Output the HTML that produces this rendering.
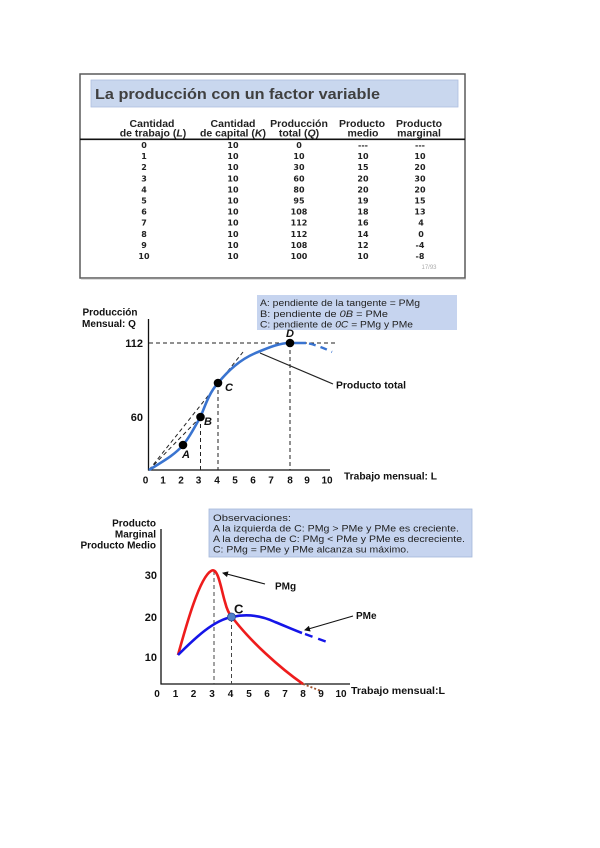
<!DOCTYPE html>
<html><head><meta charset="utf-8"><style>
html,body{margin:0;padding:0;background:#fff;}
svg{display:block;}
text{font-family:"Liberation Sans",Arial,sans-serif;}
.v{font-family:"DejaVu Sans","Liberation Sans",sans-serif;font-weight:bold;font-size:8px;fill:#222;text-anchor:middle;}
.h{font-weight:bold;font-size:10.5px;fill:#222;text-anchor:middle;}
.b{font-weight:bold;font-size:10px;fill:#111;}
.t{font-weight:bold;font-size:10px;fill:#111;text-anchor:middle;}
.y{font-weight:bold;font-size:11px;fill:#111;text-anchor:end;}
.n{font-size:9.6px;fill:#222;}
</style></head><body>
<svg width="600" height="848" viewBox="0 0 600 848" xmlns="http://www.w3.org/2000/svg">
<defs>
<marker id="ah" markerWidth="6" markerHeight="6" refX="5" refY="3" orient="auto" markerUnits="userSpaceOnUse">
<path d="M0,0 L6,3 L0,6 z" fill="#111"/>
</marker>
</defs>

<!-- ===== TABLE FRAME ===== -->
<rect x="80" y="74" width="385" height="204" fill="#fff" stroke="#5a5a5a" stroke-width="1.5"/>
<line x1="81" y1="279" x2="466" y2="279" stroke="#bbb" stroke-width="1"/>
<rect x="91" y="80" width="367" height="27" fill="#c9d7ee" stroke="#aebfe0" stroke-width="0.8"/>
<text x="95" y="99" font-size="15" font-weight="bold" fill="#404040" textLength="285" lengthAdjust="spacingAndGlyphs">La producción con un factor variable</text>

<text class="h" x="152" y="127">Cantidad</text>
<text class="h" x="153" y="136.5">de trabajo (<tspan font-style="italic">L</tspan>)</text>
<text class="h" x="233" y="127">Cantidad</text>
<text class="h" x="233" y="136.5">de capital (<tspan font-style="italic">K</tspan>)</text>
<text class="h" x="299" y="127">Producción</text>
<text class="h" x="299" y="136.5">total (<tspan font-style="italic">Q</tspan>)</text>
<text class="h" x="362" y="127">Producto</text>
<text class="h" x="363" y="136.5">medio</text>
<text class="h" x="419" y="127">Producto</text>
<text class="h" x="419" y="136.5">marginal</text>
<line x1="80" y1="139.3" x2="465" y2="139.3" stroke="#111" stroke-width="1.6"/>

<g>
<text class="v" x="144" y="148">0</text><text class="v" x="233" y="148">10</text><text class="v" x="299" y="148">0</text><text class="v" x="363" y="148">---</text><text class="v" x="420" y="148">---</text>
<text class="v" x="144" y="159.1">1</text><text class="v" x="233" y="159.1">10</text><text class="v" x="299" y="159.1">10</text><text class="v" x="363" y="159.1">10</text><text class="v" x="420" y="159.1">10</text>
<text class="v" x="144" y="170.2">2</text><text class="v" x="233" y="170.2">10</text><text class="v" x="299" y="170.2">30</text><text class="v" x="363" y="170.2">15</text><text class="v" x="420" y="170.2">20</text>
<text class="v" x="144" y="181.3">3</text><text class="v" x="233" y="181.3">10</text><text class="v" x="299" y="181.3">60</text><text class="v" x="363" y="181.3">20</text><text class="v" x="420" y="181.3">30</text>
<text class="v" x="144" y="192.4">4</text><text class="v" x="233" y="192.4">10</text><text class="v" x="299" y="192.4">80</text><text class="v" x="363" y="192.4">20</text><text class="v" x="420" y="192.4">20</text>
<text class="v" x="144" y="203.5">5</text><text class="v" x="233" y="203.5">10</text><text class="v" x="299" y="203.5">95</text><text class="v" x="363" y="203.5">19</text><text class="v" x="420" y="203.5">15</text>
<text class="v" x="144" y="214.6">6</text><text class="v" x="233" y="214.6">10</text><text class="v" x="299" y="214.6">108</text><text class="v" x="363" y="214.6">18</text><text class="v" x="420" y="214.6">13</text>
<text class="v" x="144" y="225.7">7</text><text class="v" x="233" y="225.7">10</text><text class="v" x="299" y="225.7">112</text><text class="v" x="363" y="225.7">16</text><text class="v" x="421" y="225.7">4</text>
<text class="v" x="144" y="236.8">8</text><text class="v" x="233" y="236.8">10</text><text class="v" x="299" y="236.8">112</text><text class="v" x="363" y="236.8">14</text><text class="v" x="421" y="236.8">0</text>
<text class="v" x="144" y="247.9">9</text><text class="v" x="233" y="247.9">10</text><text class="v" x="299" y="247.9">108</text><text class="v" x="363" y="247.9">12</text><text class="v" x="420" y="247.9">-4</text>
<text class="v" x="144" y="259">10</text><text class="v" x="233" y="259">10</text><text class="v" x="299" y="259">100</text><text class="v" x="363" y="259">10</text><text class="v" x="420" y="259">-8</text>
</g>
<text x="429" y="269" font-size="6" fill="#aaa" text-anchor="middle">17/93</text>

<!-- ===== CHART 1 ===== -->
<rect x="257" y="295" width="200" height="35" fill="#c6d4ef"/>
<text class="n" x="260" y="306" textLength="160" lengthAdjust="spacingAndGlyphs">A: pendiente de la tangente = PMg</text>
<text class="n" x="260" y="317" textLength="128" lengthAdjust="spacingAndGlyphs">B: pendiente de <tspan font-style="italic">0B</tspan> =  PMe</text>
<text class="n" x="260" y="327.5" textLength="153" lengthAdjust="spacingAndGlyphs">C: pendiente de <tspan font-style="italic">0C</tspan> = PMg y PMe</text>

<text class="t" x="110" y="315.5">Producción</text>
<text class="t" x="109" y="327">Mensual: Q</text>

<line x1="148.5" y1="319" x2="148.5" y2="470.5" stroke="#111" stroke-width="1.3"/>
<line x1="148" y1="470" x2="330" y2="470" stroke="#111" stroke-width="1.3"/>

<text class="y" x="143" y="347">112</text>
<text class="y" x="143" y="421">60</text>

<g class="t">
<text class="t" x="145.5" y="483.5">0</text><text class="t" x="163" y="483.5">1</text><text class="t" x="181" y="483.5">2</text><text class="t" x="198.5" y="483.5">3</text><text class="t" x="217" y="483.5">4</text><text class="t" x="235" y="483.5">5</text><text class="t" x="253" y="483.5">6</text><text class="t" x="271" y="483.5">7</text><text class="t" x="290" y="483.5">8</text><text class="t" x="307" y="483.5">9</text><text class="t" x="327" y="483.5">10</text>
</g>
<text class="b" x="344" y="479.5" textLength="93" lengthAdjust="spacingAndGlyphs">Trabajo mensual: L</text>

<g stroke="#222" stroke-width="1" stroke-dasharray="4,3" fill="none">
<line x1="149" y1="343" x2="337" y2="343"/>
<line x1="200.5" y1="417" x2="200.5" y2="470"/>
<line x1="218" y1="383" x2="218" y2="470"/>
<line x1="290" y1="343" x2="290" y2="470"/>
<line x1="149" y1="470" x2="243" y2="352"/>
<line x1="149" y1="470" x2="200.5" y2="417"/>
</g>

<path d="M149,470 C160,463 175,455 183,445 C190,437 195,426 200.5,417 C205,406 209,393 218,383 C228,371 240,359 258,352 C270,347 280,343 290,343 L306,343" fill="none" stroke="#3a74d0" stroke-width="2.6"/>
<path d="M309,343.5 Q320,346 332,352" fill="none" stroke="#3a74d0" stroke-width="2.4" stroke-dasharray="7,5"/>

<g fill="#000">
<circle cx="183" cy="445" r="4.3"/>
<circle cx="200.5" cy="417" r="4.3"/>
<circle cx="218" cy="383" r="4.3"/>
<circle cx="290" cy="343" r="4.3"/>
</g>
<g font-weight="bold" font-style="italic" font-size="11" fill="#111">
<text x="182" y="458">A</text>
<text x="204" y="425">B</text>
<text x="225" y="391">C</text>
<text x="286" y="337">D</text>
</g>

<line x1="333" y1="384" x2="260" y2="353" stroke="#222" stroke-width="1.2"/>
<text class="b" x="336" y="388.5" textLength="70" lengthAdjust="spacingAndGlyphs">Producto total</text>

<!-- ===== CHART 2 ===== -->
<rect x="209" y="509" width="263" height="48" fill="#c6d4ef" stroke="#a3b6da" stroke-width="0.8"/>
<text class="n" x="213" y="521" textLength="78" lengthAdjust="spacingAndGlyphs">Observaciones:</text>
<text class="n" x="213" y="531.5" textLength="246" lengthAdjust="spacingAndGlyphs">A la izquierda de C: PMg &gt; PMe y PMe es creciente.</text>
<text class="n" x="213" y="542" textLength="252" lengthAdjust="spacingAndGlyphs">A la derecha de C: PMg &lt; PMe y PMe es decreciente.</text>
<text class="n" x="213" y="552.5" textLength="196" lengthAdjust="spacingAndGlyphs">C: PMg = PMe y PMe alcanza su máximo.</text>

<text class="b" x="156" y="526.5" text-anchor="end">Producto</text>
<text class="b" x="156" y="537.5" text-anchor="end">Marginal</text>
<text class="b" x="156" y="548.5" text-anchor="end">Producto Medio</text>

<line x1="161" y1="529" x2="161" y2="684.5" stroke="#111" stroke-width="1.3"/>
<line x1="160.5" y1="684" x2="350" y2="684" stroke="#111" stroke-width="1.3"/>

<text class="y" x="157" y="579">30</text>
<text class="y" x="157" y="621">20</text>
<text class="y" x="157" y="661">10</text>

<text class="t" x="157" y="697">0</text><text class="t" x="175.5" y="697">1</text><text class="t" x="193.5" y="697">2</text><text class="t" x="212" y="697">3</text><text class="t" x="230.5" y="697">4</text><text class="t" x="249" y="697">5</text><text class="t" x="267" y="697">6</text><text class="t" x="285" y="697">7</text><text class="t" x="303" y="697">8</text><text class="t" x="321" y="697">9</text><text class="t" x="341" y="697">10</text>
<text class="b" x="351" y="694" textLength="94" lengthAdjust="spacingAndGlyphs">Trabajo mensual:L</text>

<g stroke="#444" stroke-width="1" stroke-dasharray="4,3">
<line x1="214" y1="571" x2="214" y2="684"/>
<line x1="231.5" y1="618" x2="231.5" y2="684"/>
</g>

<path d="M178,655 C185,630 199,578 211,571 C218,566 221,589 225,602 C227,610 229,614 232,617 C250,641 280,668 303,684" fill="none" stroke="#ee1c1c" stroke-width="2.6"/>
<path d="M303,684 L321,691" fill="none" stroke="#a0522d" stroke-width="1.8" stroke-dasharray="2,2"/>

<path d="M178,655 C195,638 214,620 232,617 C245,614 260,615 275,622 C285,626 294,630 302,633" fill="none" stroke="#1515e8" stroke-width="2.6"/>
<path d="M305,634 L331,643.5" fill="none" stroke="#1515e8" stroke-width="2.4" stroke-dasharray="8,6"/>

<circle cx="231.5" cy="617" r="4" fill="#5080c8" stroke="#2a4f90" stroke-width="0.8"/>
<text x="234" y="613.5" font-size="13" font-weight="bold" fill="#111">C</text>

<line x1="265" y1="584" x2="223" y2="573" stroke="#111" stroke-width="1.1" marker-end="url(#ah)"/>
<text class="b" x="275" y="589.5">PMg</text>
<line x1="353" y1="616" x2="305" y2="630" stroke="#111" stroke-width="1.1" marker-end="url(#ah)"/>
<text class="b" x="356" y="619">PMe</text>
</svg>
</body></html>
